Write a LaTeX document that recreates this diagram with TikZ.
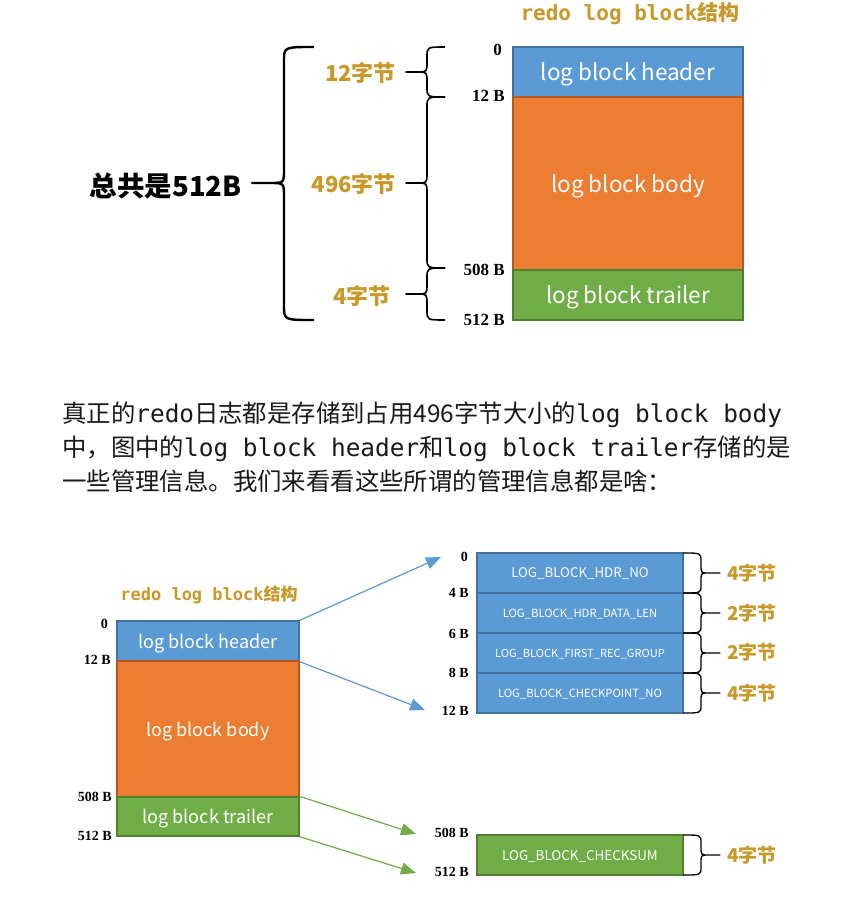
\documentclass[tikz,border=0pt]{standalone}
\usepackage{fontspec}
\usetikzlibrary{arrows.meta}
\setmainfont{Liberation Serif}
\newfontfamily\cjk{Noto Sans CJK SC}
\newfontfamily\mono{DejaVu Sans Mono}
\newfontfamily\ser{Liberation Serif}
\definecolor{hb}{RGB}{91,155,213}
\definecolor{hbd}{RGB}{65,113,156}
\definecolor{ob}{RGB}{237,125,49}
\definecolor{obd}{RGB}{174,90,33}
\definecolor{gb}{RGB}{112,173,71}
\definecolor{gbd}{RGB}{80,126,50}
\definecolor{gold}{RGB}{200,152,40}
\definecolor{ink}{RGB}{25,25,25}
% xe, xs, xt, yt, ym, yb, hx, vy
\newcommand{\bracepath}[8]{%
 (#1,#4) .. controls (#2,#4) .. (#2,{#4+#8}) -- (#2,{#5-#8})
 .. controls (#2,#5) .. ({#2-(#7)},#5) -- (#3,#5) -- ({#2-(#7)},#5)
 .. controls (#2,#5) .. (#2,{#5+#8}) -- (#2,{#6-#8})
 .. controls (#2,#6) .. (#1,#6)}
\tikzset{
 blk/.style={draw, line width=1.3pt, inner sep=0pt, text=white, text depth=0pt},
 hdr/.style={blk, fill=hb, draw=hbd},
 bdy/.style={blk, fill=ob, draw=obd},
 trl/.style={blk, fill=gb, draw=gbd},
 off/.style={anchor=east, inner sep=0pt, font=\ser\bfseries\fontsize{17}{17}\selectfont},
 offs/.style={anchor=east, inner sep=0pt, font=\ser\bfseries\fontsize{14}{14}\selectfont},
 goldlbl/.style={text=gold, inner sep=0pt, font=\cjk\bfseries\fontsize{22}{22}\selectfont},
 goldsm/.style={text=gold, inner sep=0pt, font=\cjk\bfseries\fontsize{19}{19}\selectfont},
 arrb/.style={draw=hb, line width=1.2pt, -{Triangle[length=15pt,width=12pt]}},
 arrg/.style={draw=gb, line width=1.2pt, -{Triangle[length=15pt,width=12pt]}},
 para/.style={anchor=base west, inner sep=0pt, text=ink, font=\fontsize{24.4}{30}\selectfont},
}
\begin{document}
\begin{tikzpicture}[x=1pt,y=-1pt]
\useasboundingbox (0,0) rectangle (851,899);
\fill[white] (0,0) rectangle (851,899);

% ---------- top diagram ----------
\node[text=gold, inner sep=0pt, font=\bfseries\fontsize{21}{21}\selectfont] (t1) at (630,14)
 {{\mono redo log block}{\cjk 结构}};
\node[hdr, minimum width=230pt, minimum height=50pt, font=\cjk\fontsize{22.5}{22.5}\selectfont] (hd1) at (628,72) {log block header};
\node[bdy, minimum width=230pt, minimum height=173pt, font=\cjk\fontsize{22.5}{22.5}\selectfont] (bd1) at (628,183.5) {log block body};
\node[trl, minimum width=230pt, minimum height=50pt, font=\cjk\fontsize{22.5}{22.5}\selectfont] (tr1) at (628,295) {log block trailer};

\node[off] (o1a) at (502,50) {0};
\node[off] (o1b) at (505,96) {12 B};
\node[off] (o1c) at (505,270) {508 B};
\node[off] (o1d) at (505,320) {512 B};

\draw[line width=1.6pt, line join=round] \bracepath{445}{427}{406}{47}{72}{97}{10}{10};
\draw[line width=1.6pt, line join=round] \bracepath{445}{427}{406}{97}{183}{268}{10}{10};
\draw[line width=1.6pt, line join=round] \bracepath{445}{427}{406}{268}{294}{320}{10}{10};
\draw[line width=2.4pt, line join=round] \bracepath{314}{284}{252}{47}{183}{320}{14}{14};

\node[goldlbl, anchor=east] (s12) at (396,73) {12字节};
\node[goldlbl, anchor=east] (s496) at (396,184) {496字节};
\node[goldlbl, anchor=east] (s4) at (391,296) {4字节};
\node[inner sep=0pt, anchor=east, font=\cjk\bfseries\fontsize{27.5}{27.5}\selectfont] (tot) at (242,186) {总共是512B};

% ---------- paragraph ----------
\node[para] (p1) at (62,422) {{\cjk 真正的}{\mono redo}{\cjk 日志都是存储到占用496字节大小的}{\mono log block body}};
\node[para] (p2) at (62,456) {{\cjk 中，图中的}{\mono log block header}{\cjk 和}{\mono log block trailer}{\cjk 存储的是}};
\node[para] (p3) at (62,490) {{\cjk 一些管理信息。我们来看看这些所谓的管理信息都是啥：}};

% ---------- bottom diagram ----------
\node[text=gold, inner sep=0pt, font=\bfseries\fontsize{17}{17}\selectfont] (t2) at (209,595)
 {{\mono redo log block}{\cjk 结构}};
\node[hdr, minimum width=182pt, minimum height=40pt, font=\cjk\fontsize{18}{18}\selectfont] (hd2) at (208,641) {log block header};
\node[bdy, minimum width=182pt, minimum height=136pt, font=\cjk\fontsize{18}{18}\selectfont] (bd2) at (208,729) {log block body};
\node[trl, minimum width=182pt, minimum height=39pt, font=\cjk\fontsize{18}{18}\selectfont] (tr2) at (208,816.5) {log block trailer};

\node[offs] (o2a) at (108,624) {0};
\node[offs] (o2b) at (111,660) {12 B};
\node[offs] (o2c) at (112,797) {508 B};
\node[offs] (o2d) at (112,836) {512 B};

\node[hdr, minimum width=206pt, minimum height=40pt, font=\cjk\fontsize{13.3}{13.3}\selectfont] (r1) at (580,573) {LOG\_BLOCK\_HDR\_NO};
\node[hdr, minimum width=206pt, minimum height=40pt, font=\cjk\fontsize{11.3}{11.3}\selectfont] (r2) at (580,613) {LOG\_BLOCK\_HDR\_DATA\_LEN};
\node[hdr, minimum width=206pt, minimum height=40pt, font=\cjk\fontsize{11.1}{11.1}\selectfont] (r3) at (580,653) {LOG\_BLOCK\_FIRST\_REC\_GROUP};
\node[hdr, minimum width=206pt, minimum height=40pt, font=\cjk\fontsize{11.3}{11.3}\selectfont] (r4) at (580,693) {LOG\_BLOCK\_CHECKPOINT\_NO};
\node[trl, minimum width=206pt, minimum height=40pt, font=\cjk\fontsize{13.4}{13.4}\selectfont] (r5) at (580,855) {LOG\_BLOCK\_CHECKSUM};

\node[offs] (o3a) at (468,557) {0};
\node[offs] (o3b) at (469,593) {4 B};
\node[offs] (o3c) at (469,634) {6 B};
\node[offs] (o3d) at (469,673) {8 B};
\node[offs] (o3e) at (469,711) {12 B};
\node[offs] (o3f) at (469,833) {508 B};
\node[offs] (o3g) at (469,872) {512 B};

\draw[line width=1.3pt, line join=round] \bracepath{683}{701}{720}{553}{573}{593}{-8}{8};
\draw[line width=1.3pt, line join=round] \bracepath{683}{701}{720}{593}{613}{633}{-8}{8};
\draw[line width=1.3pt, line join=round] \bracepath{683}{701}{720}{633}{653}{673}{-8}{8};
\draw[line width=1.3pt, line join=round] \bracepath{683}{701}{720}{673}{693}{713}{-8}{8};
\draw[line width=1.3pt, line join=round] \bracepath{683}{701}{720}{835}{855}{875}{-8}{8};

\node[goldsm, anchor=west] (b1) at (727,573) {4字节};
\node[goldsm, anchor=west] (b2) at (727,613) {2字节};
\node[goldsm, anchor=west] (b3) at (727,652) {2字节};
\node[goldsm, anchor=west] (b4) at (727,693) {4字节};
\node[goldsm, anchor=west] (b5) at (727,855) {4字节};

\coordinate (a1) at (441,557);
\coordinate (a2) at (425,710);
\coordinate (a3) at (416,834);
\coordinate (a4) at (416,873);
\draw[arrb] (hd2.north east) -- (a1);
\draw[arrb] (hd2.south east) -- (a2);
\draw[arrg] (tr2.north east) -- (a3);
\draw[arrg] (tr2.south east) -- (a4);
\end{tikzpicture}
\end{document}
